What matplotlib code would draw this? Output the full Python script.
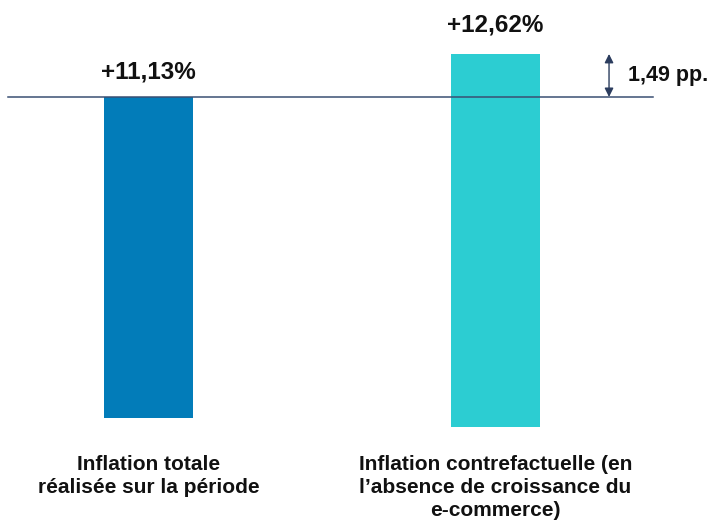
import matplotlib
matplotlib.use('Agg')
import matplotlib.pyplot as plt

# Inflation observed vs. counterfactual (without e-commerce growth)
categories = [
    "Inflation totale\nréalisée sur la période",
    "Inflation contrefactuelle (en\nl\u2019absence de croissance du\ne-commerce)",
]
values = [11.13, 12.62]
value_labels = ["+11,13%", "+12,62%"]
bar_bottom = [0.0, -0.3]
gap_label = "1,49 pp."

bar_colors = ["#027CB9", "#2CCDD2"]
line_color = "#3A4F73"
arrow_color = "#2B3C5E"

plt.rcParams['font.family'] = ['Liberation Sans', 'DejaVu Sans']

fig = plt.figure(figsize=(7.18, 5.22), dpi=100)
ax = fig.add_axes([0, 0, 1, 1])
ax.set_xlim(-0.428, 1.641)
ax.set_ylim(-3.60, 14.49)
ax.axis('off')

x = list(range(len(values)))
heights = [v - b for v, b in zip(values, bar_bottom)]
ax.bar(x, heights, bottom=bar_bottom, width=0.256, color=bar_colors, zorder=2)

# value labels above the bars
pads = [13, 16]
for xi, v, lab, p in zip(x, values, value_labels, pads):
    ax.annotate(lab, xy=(xi, v), xytext=(0, p), textcoords='offset points',
                ha='center', va='baseline', fontsize=17.5, fontweight='bold',
                color='#111111')

# reference line at the realised inflation level
ax.plot([-0.405, 1.454], [values[0], values[0]], color=line_color,
        linewidth=1.1, zorder=3)

# gap arrow between the two levels
ax.annotate('', xy=(1.327, values[1]), xytext=(1.327, values[0]),
            arrowprops=dict(arrowstyle='<|-|>', color=arrow_color, lw=1.0,
                            mutation_scale=13, shrinkA=0, shrinkB=0))
ax.text(1.382, (values[0] + values[1]) / 2, gap_label, ha='left', va='center',
        fontsize=15.5, fontweight='bold', color='#111111')

# category labels under the bars
for xi, cat in zip(x, categories):
    ax.text(xi, -1.28, cat, ha='center', va='top', fontsize=15,
            fontweight='bold', color='#111111', linespacing=1.28)

fig.savefig('out.png', dpi=100)
